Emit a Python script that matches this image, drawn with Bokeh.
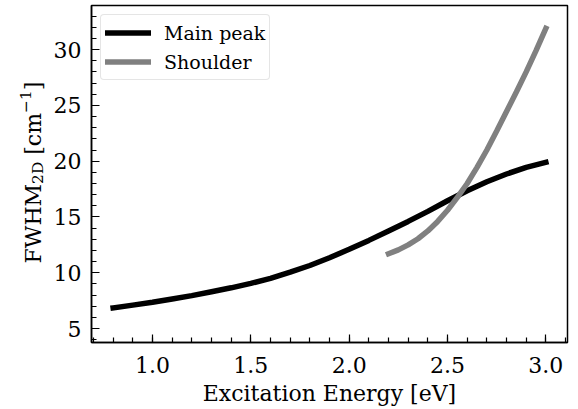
import math, glob, struct, os
from bokeh.plotting import figure
from bokeh.layouts import row
from bokeh.models import (Range1d, SingleIntervalTicker, PrintfTickFormatter,
                          Legend, LegendItem, ColumnDataSource)
from bokeh.core.properties import value
from bokeh.embed import file_html
from bokeh.resources import INLINE

# ---- data ----
main_x = [0.8, 0.9, 1.0, 1.1, 1.2, 1.3, 1.4, 1.5, 1.6, 1.7, 1.8, 1.9, 2.0,
          2.1, 2.2, 2.3, 2.4, 2.5, 2.6, 2.7, 2.8, 2.9, 3.0]
main_y = [6.85, 7.1, 7.35, 7.65, 7.95, 8.3, 8.65, 9.05, 9.5, 10.05, 10.65,
          11.35, 12.1, 12.9, 13.75, 14.6, 15.5, 16.45, 17.35, 18.15, 18.85, 19.45, 19.9]
shoulder_x = [2.2, 2.25, 2.3, 2.35, 2.4, 2.45, 2.5, 2.55, 2.6, 2.65, 2.7,
              2.75, 2.8, 2.85, 2.9, 2.95, 3.0]
shoulder_y = [11.7, 12.05, 12.5, 13.05, 13.75, 14.6, 15.6, 16.75, 18.0, 19.45,
              21.0, 22.7, 24.45, 26.2, 28.0, 29.9, 31.9]

x_label = "Excitation Energy [eV]"
y_label_parts = ["FWHM", "2D", " [cm", "\u22121", "]"]
legend_labels = ["Main peak", "Shoulder"]

SERIF = "DejaVu Serif"
X0, X1, Y0, Y1 = 0.69, 3.11, 3.75, 33.95
W, H = 578, 409
LW = 50                       # width of the strip holding the y label
BL, BR, BT, BB = 90 - LW, 11, 5, 67

# approximate DejaVu Serif advance widths (em), used if the font file is absent
FALLBACK = {"F": 0.685, "W": 1.03, "H": 0.838, "M": 0.995, "2": 0.636,
            "D": 0.83, " ": 0.318, "[": 0.39, "c": 0.56, "m": 0.948,
            "\u2212": 0.838, "1": 0.636, "]": 0.39}


def find_font():
    roots = ["/usr/share/fonts", "/usr/local/share/fonts",
             os.path.expanduser("~/.fonts"), os.path.expanduser("~/.local/share/fonts")]
    for r in roots:
        for pth in glob.glob(os.path.join(r, "**", "*.ttf"), recursive=True):
            if os.path.basename(pth).lower() == "dejavuserif.ttf":
                return pth
    return None


def load_widths():
    path = find_font()
    if not path:
        return None
    data = open(path, "rb").read()
    ntab = struct.unpack(">H", data[4:6])[0]
    tabs = {}
    for i in range(ntab):
        rec = data[12 + 16 * i: 28 + 16 * i]
        tabs[rec[:4].decode("latin1")] = struct.unpack(">I", rec[8:12])[0]
    upem = struct.unpack(">H", data[tabs["head"] + 18: tabs["head"] + 20])[0]
    nhm = struct.unpack(">H", data[tabs["hhea"] + 34: tabs["hhea"] + 36])[0]
    hm = tabs["hmtx"]
    adv = [struct.unpack(">H", data[hm + 4 * i: hm + 4 * i + 2])[0] for i in range(nhm)]
    cm = tabs["cmap"]
    nsub = struct.unpack(">H", data[cm + 2: cm + 4])[0]
    sub = None
    for i in range(nsub):
        pid, eid, off = struct.unpack(">HHI", data[cm + 4 + 8 * i: cm + 12 + 8 * i])
        fmt = struct.unpack(">H", data[cm + off: cm + off + 2])[0]
        if fmt == 4 and ((pid == 3 and eid == 1) or pid == 0):
            sub = cm + off
            break
    if sub is None:
        return None
    segx2 = struct.unpack(">H", data[sub + 6: sub + 8])[0]
    seg = segx2 // 2
    ends = sub + 14
    starts = ends + segx2 + 2
    deltas = starts + segx2
    rofs = deltas + segx2

    def gid(c):
        for i in range(seg):
            e = struct.unpack(">H", data[ends + 2 * i: ends + 2 * i + 2])[0]
            if c <= e:
                s = struct.unpack(">H", data[starts + 2 * i: starts + 2 * i + 2])[0]
                if c < s:
                    return 0
                d = struct.unpack(">h", data[deltas + 2 * i: deltas + 2 * i + 2])[0]
                r = struct.unpack(">H", data[rofs + 2 * i: rofs + 2 * i + 2])[0]
                if r == 0:
                    return (c + d) & 0xFFFF
                a = rofs + 2 * i + r + 2 * (c - s)
                g = struct.unpack(">H", data[a: a + 2])[0]
                return (g + d) & 0xFFFF if g else 0
        return 0

    def width(text, size):
        return sum(adv[min(gid(ord(ch)), nhm - 1)] for ch in text) / upem * size
    return width


try:
    _w = load_widths()
except Exception:
    _w = None


def text_w(text, size):
    if _w is not None:
        return _w(text, size)
    return sum(FALLBACK.get(ch, 0.6) for ch in text) * size


# ---- main plot ----
p = figure(width=W - LW, height=H, output_backend="svg", toolbar_location=None,
           x_range=Range1d(X0, X1), y_range=Range1d(Y0, Y1),
           min_border_left=BL, min_border_right=BR, min_border_top=BT,
           min_border_bottom=BB)
p.grid.visible = False
p.outline_line_color = "black"
p.outline_line_width = 1.5
p.background_fill_color = "white"
p.border_fill_color = "white"

r1 = p.line(main_x, main_y, line_color="black", line_width=5.5, line_cap="square")
r2 = p.line(shoulder_x, shoulder_y, line_color="#808080", line_width=5.5, line_cap="square")

p.xaxis.ticker = SingleIntervalTicker(interval=0.5, num_minor_ticks=5)
p.yaxis.ticker = SingleIntervalTicker(interval=5, num_minor_ticks=5)
p.xaxis.formatter = PrintfTickFormatter(format="%.1f")
p.yaxis.formatter = PrintfTickFormatter(format="%d")

for ax in (p.xaxis[0], p.yaxis[0]):
    ax.major_tick_in = 8
    ax.major_tick_out = 0
    ax.minor_tick_in = 5
    ax.minor_tick_out = 0
    ax.axis_line_width = 1.5
    ax.major_tick_line_width = 1.2
    ax.minor_tick_line_width = 1.2
    ax.major_label_text_font = SERIF
    ax.major_label_text_font_size = "22px"
    ax.major_label_text_color = "black"
    ax.axis_label_text_font = SERIF
    ax.axis_label_text_font_size = "22px"
    ax.axis_label_text_font_style = "normal"
    ax.axis_label_text_color = "black"

p.xaxis.axis_label = x_label
p.xaxis.major_label_standoff = 14
p.xaxis.axis_label_standoff = 5
p.yaxis.major_label_standoff = 10

legend = Legend(items=[LegendItem(label=legend_labels[0], renderers=[r1]),
                       LegendItem(label=legend_labels[1], renderers=[r2])],
                location="top_left")
legend.label_text_font = SERIF
legend.label_text_font_size = "19px"
legend.label_text_color = "black"
legend.glyph_width = 46
legend.glyph_height = 27
legend.label_height = 27
legend.label_standoff = 13
legend.padding = 4
legend.spacing = 2
legend.margin = 9
legend.border_line_color = "#cccccc"
legend.border_line_width = 1.5
legend.background_fill_alpha = 0.8
if "border_radius" in Legend.properties():
    legend.border_radius = 4
p.add_layout(legend)

# ---- strip with the y-axis label (sub/superscript pieces) ----
# its frame is aligned with the main frame by the row layout, so give it the
# same top/bottom borders and a 1:1 pixel range (y measured up from canvas bottom)
q = figure(width=LW, height=H, output_backend="svg", toolbar_location=None,
           x_range=Range1d(0, LW), y_range=Range1d(BB, H - BT),
           min_border_left=0, min_border_right=0,
           min_border_top=BT, min_border_bottom=BB)
q.axis.visible = False
q.grid.visible = False
q.outline_line_color = None
q.background_fill_color = "white"
q.border_fill_color = "white"

FS = 22.0
SUB = FS * 0.7
base_px = 33.0          # baseline (screen x) of the rotated label
start_py = 263.0        # screen y where the label starts (bottom end)
specs = [(y_label_parts[0], FS, 0.0),
         (y_label_parts[1], SUB, 4.5),
         (y_label_parts[2], FS, 0.0),
         (y_label_parts[3], SUB, -8.5),
         (y_label_parts[4], FS, 0.0)]
cur = start_py
cols = dict(x=[], y=[], text=[], size=[])
for txt, size, shift in specs:
    lead = len(txt) - len(txt.lstrip(" "))
    if lead:
        cur -= text_w(" " * lead, size)
        txt = txt.lstrip(" ")
    cols["x"].append(base_px + shift)
    cols["y"].append(H - cur)
    cols["text"].append(txt)
    cols["size"].append(f"{size:.1f}px")
    cur -= text_w(txt, size)

q.text(x="x", y="y", text="text", source=ColumnDataSource(cols),
       angle=math.pi / 2, text_align="left", text_baseline="alphabetic",
       text_font=value(SERIF), text_font_size="size", text_color="black")

layout = row(q, p, spacing=0)
open("out.html", "w").write(file_html(layout, INLINE))
